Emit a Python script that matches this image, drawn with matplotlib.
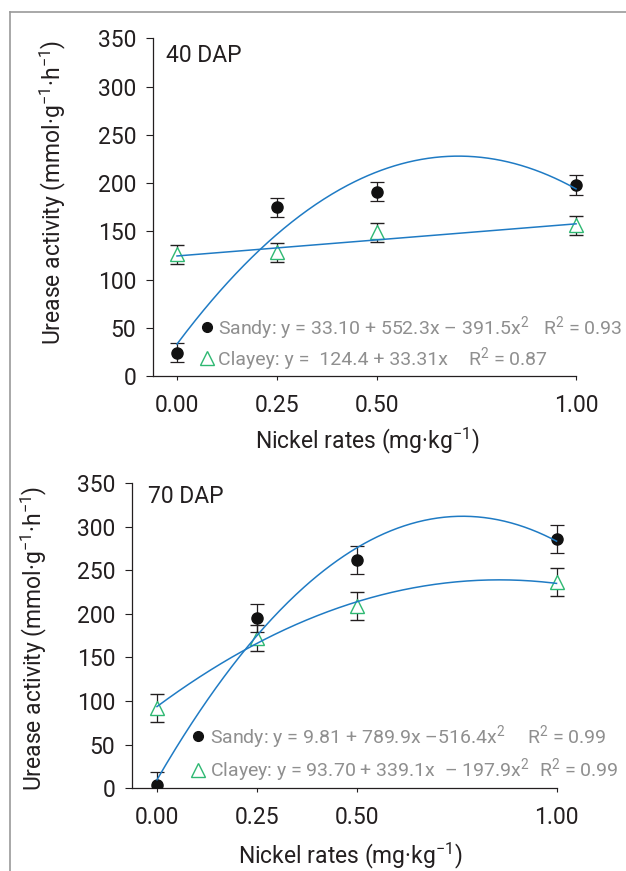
import numpy as np
import matplotlib
matplotlib.use("Agg")
import matplotlib.pyplot as plt
from matplotlib.lines import Line2D

plt.rcParams['font.family'] = ['Roboto', 'DejaVu Sans']
plt.rcParams['mathtext.fontset'] = 'custom'
plt.rcParams['mathtext.rm'] = 'Roboto'
plt.rcParams['mathtext.it'] = 'Roboto:italic'
plt.rcParams['mathtext.bf'] = 'Roboto:bold'

# ---------------- data ----------------
nickel_rates = [0.00, 0.25, 0.50, 1.00]
x_tick_labels = ['0.00', '0.25', '0.50', '1.00']
y_ticks = [0, 50, 100, 150, 200, 250, 300, 350]

# 40 DAP
sandy_40 = [24, 175, 191, 198]
sandy_40_err = [10, 10, 10, 10]
clayey_40 = [126, 128, 149, 156]
clayey_40_err = [10, 10, 10, 10]
sandy_40_coef = [33.10, 552.3, -391.5]   # a + b x + c x^2
clayey_40_coef = [124.4, 33.31, 0.0]

# 70 DAP
sandy_70 = [4, 195, 262, 286]
sandy_70_err = [15, 16, 16, 16]
clayey_70 = [92, 172, 209, 236]
clayey_70_err = [16, 15, 16, 16]
sandy_70_coef = [9.81, 789.9, -516.4]
clayey_70_coef = [93.70, 339.1, -197.9]

panel_titles = ['40 DAP', '70 DAP']
SQ = '$\\mathregular{^2}$'
eq_40 = [('Sandy: y = 33.10 + 552.3x \u2013 391.5x' + SQ, 'R' + SQ + ' = 0.93'),
         ('Clayey: y =  124.4 + 33.31x', 'R' + SQ + ' = 0.87')]
eq_70 = [('Sandy: y = 9.81 + 789.9x \u2013516.4x' + SQ, 'R' + SQ + ' = 0.99'),
         ('Clayey: y = 93.70 + 339.1x  \u2013 197.9x' + SQ, 'R' + SQ + ' = 0.99')]
ylabel = 'Urease activity (mmol\u00b7g$^{-1}$\u00b7h$^{-1}$)'
xlabel = 'Nickel rates (mg\u00b7kg$^{-1}$)'

# ---------------- style ----------------
W, H = 626, 871
DARK = '#231f20'
BLUE = '#1f7bc4'
GREEN = '#2eb872'
GRAY = '#8f8f8f'
FS = 16.5
FS_EQ = 14.0

fig = plt.figure(figsize=(W / 100, H / 100), dpi=100)


def P(x, y):
    return (x / W, 1 - y / H)


def poly(c, x):
    return c[0] + c[1] * x + c[2] * x ** 2


def setup_axes(rect, xleft):
    ax = fig.add_axes(rect)
    ax.set_xlim(xleft, 1.06)
    ax.set_ylim(0, 350)
    for s in ['top', 'right']:
        ax.spines[s].set_visible(False)
    for s in ['left', 'bottom']:
        ax.spines[s].set_color(DARK)
        ax.spines[s].set_linewidth(0.9)
    ax.spines['bottom'].set_bounds(xleft, 1.0)
    ax.set_xticks(nickel_rates)
    ax.set_xticklabels(x_tick_labels)
    ax.set_yticks(y_ticks)
    ax.tick_params(axis='y', length=5, width=0.8, color=DARK, pad=7,
                   labelsize=FS, labelcolor=DARK)
    ax.tick_params(axis='x', length=3, width=0.8, color=DARK, pad=10,
                   labelsize=FS, labelcolor=DARK)
    return ax


def draw_panel(ax, s, se, c, ce, sc, cc):
    ax.errorbar(nickel_rates, c, yerr=ce, fmt='^', ms=9.5, mfc='white',
                mec=GREEN, mew=1.0, ecolor=DARK, elinewidth=0.9,
                capsize=5, capthick=0.9, zorder=2)
    ax.errorbar(nickel_rates, s, yerr=se, fmt='o', ms=8, mfc='#111111',
                mec='#111111', ecolor=DARK, elinewidth=0.9,
                capsize=5, capthick=0.9, zorder=2.5)
    xx = np.linspace(0, 1, 300)
    ax.plot(xx, poly(sc, xx), color=BLUE, lw=1.1, zorder=3)
    ax.plot(xx, poly(cc, xx), color=BLUE, lw=1.1, zorder=3)


# top panel (40 DAP)
ax1 = setup_axes([153 / W, 1 - 376 / H, 447 / W, 337.7 / H], -24 / 399)
draw_panel(ax1, sandy_40, sandy_40_err, clayey_40, clayey_40_err,
           sandy_40_coef, clayey_40_coef)

# bottom panel (70 DAP)
ax2 = setup_axes([132 / W, 1 - 788.3 / H, 448.5 / W, 305.3 / H], -25 / 399.5)
draw_panel(ax2, sandy_70, sandy_70_err, clayey_70, clayey_70_err,
           sandy_70_coef, clayey_70_coef)

# panel titles
fig.text(*P(166, 61.7), panel_titles[0], fontsize=FS, color=DARK,
         ha='left', va='baseline')
fig.text(*P(148, 502.7), panel_titles[1], fontsize=FS, color=DARK,
         ha='left', va='baseline')

# axis labels
fig.text(*P(53, 192.5), ylabel, rotation=90, fontsize=FS, color=DARK,
         ha='center', va='center')
fig.text(*P(34, 638.5), ylabel, rotation=90, fontsize=FS, color=DARK,
         ha='center', va='center')
fig.text(*P(367, 448), xlabel, fontsize=FS, color=DARK,
         ha='center', va='baseline')
fig.text(*P(350, 863), xlabel, fontsize=FS, color=DARK,
         ha='center', va='baseline')


# equation legends
def legend_row(mx, my, marker, tx, ty, eq, rx, r2):
    if marker == 'o':
        m = Line2D([mx / W], [1 - my / H], marker='o', ms=7, mfc='#111111',
                   mec='#111111', ls='none', transform=fig.transFigure)
    else:
        m = Line2D([mx / W], [1 - my / H], marker='^', ms=9.5, mfc='white',
                   mec=GREEN, mew=1.0, ls='none', transform=fig.transFigure)
    fig.add_artist(m)
    fig.text(*P(tx, ty), eq, fontsize=FS_EQ, color=GRAY, ha='left',
             va='baseline')
    fig.text(*P(rx, ty), r2, fontsize=FS_EQ, color=GRAY, ha='left',
             va='baseline')


legend_row(206.7, 326.7, 'o', 218, 334, eq_40[0][0], 543, eq_40[0][1])
legend_row(206.7, 358, '^', 218, 365, eq_40[1][0], 468, eq_40[1][1])
legend_row(198, 735.7, 'o', 210, 743.3, eq_70[0][0], 527, eq_70[0][1])
legend_row(197.7, 770, '^', 210, 775.7, eq_70[1][0], 539, eq_70[1][1])

# outer frame lines
fig.add_artist(Line2D([9.5 / W, 1.0], [1 - 12.3 / H, 1 - 12.3 / H],
                      color='#9a9a9a', lw=1.2, transform=fig.transFigure))
fig.add_artist(Line2D([9.5 / W, 9.5 / W], [1 - 12.3 / H, 0.0],
                      color='#9a9a9a', lw=1.2, transform=fig.transFigure))

fig.savefig('out.png', dpi=100)
